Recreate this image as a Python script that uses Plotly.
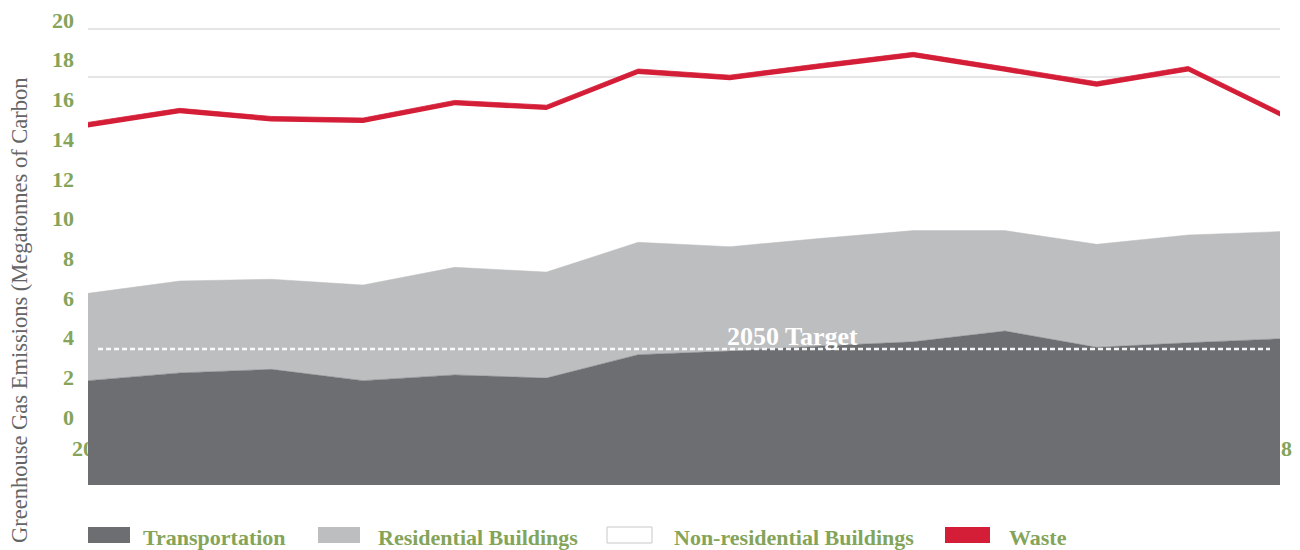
import plotly.graph_objects as go

# ---------------- data ----------------
years = list(range(2005, 2019))
transportation = [1.83, 2.22, 2.40, 1.83, 2.12, 1.96, 3.14, 3.32, 3.58, 3.79, 4.33, 3.51, 3.74, 3.94]
residential = [4.40, 4.63, 4.54, 4.82, 5.42, 5.34, 5.66, 5.26, 5.42, 5.60, 5.06, 5.19, 5.43, 5.40]
non_residential = [8.36, 8.45, 7.95, 8.16, 8.16, 8.16, 8.48, 8.39, 8.56, 8.73, 8.00, 7.94, 8.24, 5.80]
waste = [0.25, 0.25, 0.25, 0.25, 0.25, 0.25, 0.25, 0.25, 0.25, 0.25, 0.25, 0.25, 0.25, 0.25]
target_2050 = 3.43
y_ticks = list(range(0, 21, 2))
series_names = ["Transportation", "Residential Buildings", "Non-residential Buildings", "Waste"]

# ---------------- style ----------------
GREEN = "#84a45a"
RED = "#d41d36"
DARK = "#6d6e72"
LIGHT = "#bdbec0"
GRID = "#dcdcdc"
SERIF = "Liberation Serif, Times New Roman, serif"

W, H = 1300, 550
ML, MR, MT, MB = 88, 20, 15, 65
PW, PH = W - ML - MR, H - MT - MB
Y_RANGE = [-3.4257, 20.2519]


def px_x(p):
    return (p - ML) / PW


def px_y(p):
    return (H - MB - p) / PH


# cumulative stacks
cum_t = transportation
cum_tr = [a + b for a, b in zip(cum_t, residential)]
cum_trn = [a + b for a, b in zip(cum_tr, non_residential)]
cum_trnw = [a + b for a, b in zip(cum_trn, waste)]
base = [Y_RANGE[0]] * len(years)

fig = go.Figure()
fig.add_trace(go.Scatter(x=years, y=base, mode="lines", line=dict(width=0),
                         hoverinfo="skip", showlegend=False))
fig.add_trace(go.Scatter(x=years, y=cum_t, mode="lines", fill="tonexty", fillcolor=DARK,
                         line=dict(width=0.5, color=DARK), name=series_names[0], showlegend=False))
fig.add_trace(go.Scatter(x=years, y=cum_tr, mode="lines", fill="tonexty", fillcolor=LIGHT,
                         line=dict(width=0.5, color=LIGHT), name=series_names[1], showlegend=False))
fig.add_trace(go.Scatter(x=years, y=cum_trn, mode="lines", fill="tonexty",
                         fillcolor="rgba(255,255,255,0)", line=dict(width=0),
                         name=series_names[2], showlegend=False))
fig.add_trace(go.Scatter(x=years, y=cum_trnw, mode="lines", fill="tonexty", fillcolor=RED,
                         line=dict(width=0.8, color=RED), name=series_names[3], showlegend=False))
# empty trace on overlay axis (carries the 2018 label)
fig.add_trace(go.Scatter(x=[], y=[], xaxis="x2", showlegend=False, hoverinfo="skip"))

tickfont = dict(family=SERIF, size=22, color=GREEN, weight="bold")

fig.update_layout(
    width=W, height=H,
    margin=dict(l=ML, r=MR, t=MT, b=MB, autoexpand=False),
    paper_bgcolor="white", plot_bgcolor="white",
    showlegend=False,
    xaxis=dict(range=[years[0], years[-1]], showgrid=False, zeroline=False, showline=False,
               ticks="", tickvals=[years[0]], ticktext=[str(years[0])], ticklabelshift=6,
               tickfont=tickfont, layer="below traces", anchor="free", position=0.1106,
               automargin=False),
    xaxis2=dict(range=[years[0], years[-1]], overlaying="x", matches="x", showgrid=False,
                zeroline=False, showline=False, ticks="", tickvals=[years[-1]],
                ticktext=[str(years[-1])], ticklabelshift=-10, tickfont=tickfont,
                layer="below traces", anchor="free", position=0.1106, side="bottom",
                automargin=False),
    yaxis=dict(range=Y_RANGE, showgrid=False, zeroline=False, showline=False, ticks="",
               tickvals=y_ticks, ticktext=[str(v) for v in y_ticks], tickfont=tickfont,
               ticklabelstandoff=13, automargin=False),
)

shapes = []
# gridlines (as drawn in the reference)
for gy in (29, 77):
    shapes.append(dict(type="line", xref="paper", yref="paper", x0=0, x1=1,
                       y0=px_y(gy), y1=px_y(gy), line=dict(color=GRID, width=1.5), layer="below"))
# 2050 target line
shapes.append(dict(type="line", xref="x domain", yref="y", x0=px_x(98), x1=px_x(1270),
                   y0=target_2050, y1=target_2050,
                   line=dict(color="rgba(255,255,255,0.92)", width=2.5, dash="5px,3px")))

# custom legend
legend_items = [
    (88, 130, 141, DARK, DARK),
    (318, 360, 376, LIGHT, LIGHT),
    (607, 652, 672, "white", "#c8c8c8"),
    (945, 990, 1007, RED, RED),
]
annotations = []
for (x0, x1, tx, fc, lc), name in zip(legend_items, series_names):
    shapes.append(dict(type="rect", xref="paper", yref="paper", x0=px_x(x0), x1=px_x(x1),
                       y0=px_y(543), y1=px_y(527), fillcolor=fc,
                       line=dict(color=lc, width=1 if fc == "white" else 0)))
    annotations.append(dict(xref="paper", yref="paper", x=px_x(tx), y=px_y(537),
                            xanchor="left", yanchor="middle", showarrow=False, text=name,
                            font=dict(family=SERIF, size=22, color=GREEN, weight="bold")))

annotations.append(dict(xref="paper", yref="paper", x=px_x(19), y=px_y(310), textangle=-90,
                        xanchor="center", yanchor="middle", showarrow=False,
                        text="Greenhouse Gas Emissions (Megatonnes of Carbon",
                        font=dict(family=SERIF, size=22.5, color="#646567")))
annotations.append(dict(xref="paper", yref="y", x=px_x(792), y=target_2050, yanchor="bottom",
                        xanchor="center", yshift=-4, showarrow=False, text="2050 Target",
                        font=dict(family=SERIF, size=26, color="white", weight="bold")))

fig.update_layout(shapes=shapes, annotations=annotations)
fig.write_html(
    "out.html",
    config={"displayModeBar": False},
    post_script="document.body.style.margin='0';document.body.style.padding='0';",
)
